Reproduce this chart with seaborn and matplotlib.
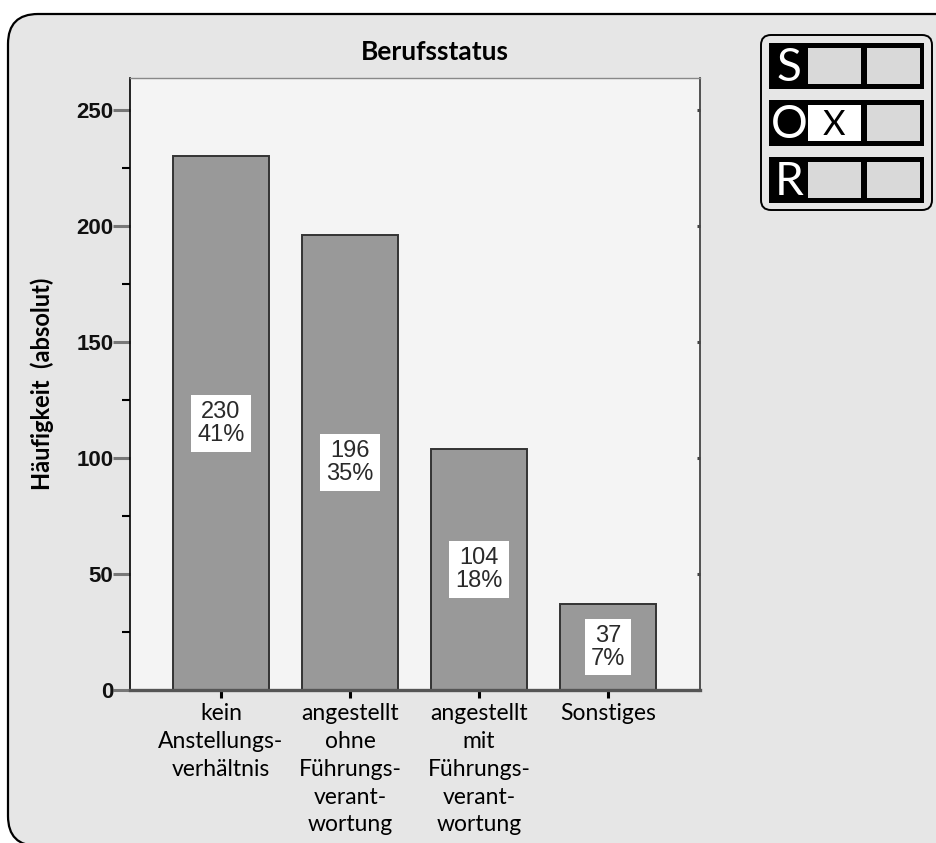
import matplotlib
matplotlib.use("Agg")
import matplotlib.pyplot as plt
from matplotlib.patches import FancyBboxPatch, Rectangle
import pandas as pd
import seaborn as sns

# Occupational status counts
categories = [
    "kein\nAnstellungs-\nverhältnis",
    "angestellt\nohne\nFührungs-\nverant-\nwortung",
    "angestellt\nmit\nFührungs-\nverant-\nwortung",
    "Sonstiges",
]
counts = [230, 196, 104, 37]
y_ticks = [0, 50, 100, 150, 200, 250]
y_minor = [25, 75, 125, 175, 225]

title = "Berufsstatus"
y_label = "Häufigkeit  (absolut)"

sns.set_style("ticks")
plt.rcParams["font.family"] = ["Lato", "DejaVu Sans"]

W, H = 937, 843
fig = plt.figure(figsize=(W / 100, H / 100), dpi=100, facecolor="white")

# Background layer in pixel coordinates: rounded frame and the S/O/R badge
bg = fig.add_axes([0, 0, 1, 1])
bg.set_xlim(0, W)
bg.set_ylim(H, 0)
bg.axis("off")
bg.add_patch(FancyBboxPatch((8, 14), 980, 832,
                            boxstyle="round,pad=0,rounding_size=30",
                            fc="#e6e6e6", ec="black", lw=1.6))
bg.add_patch(FancyBboxPatch((761, 35), 171, 175,
                            boxstyle="round,pad=0,rounding_size=10",
                            fc="#e6e6e6", ec="black", lw=1.4))
badge_rows = [("S", 43, None), ("O", 100, 0), ("R", 157, None)]
for letter, top, marked in badge_rows:
    bg.add_patch(Rectangle((769, top), 155, 46, fc="black", ec="none"))
    for k, cx in enumerate((808, 867)):
        fc = "white" if marked == k else "#d9d9d9"
        bg.add_patch(Rectangle((cx, top + 5), 53, 36, fc=fc, ec="none"))
        if marked == k:
            bg.text(cx + 26, top + 25, "X", color="black", fontsize=25,
                    ha="center", va="center", family=["Lato", "DejaVu Sans"])
    bg.text(789, top + 25, letter, color="white", fontsize=33,
            ha="center", va="center", family=["Lato", "DejaVu Sans"])

# Main bar chart
left, right, top_px, bottom_px = 130, 700, 78, 690
ax = fig.add_axes([left / W, 1 - bottom_px / H,
                   (right - left) / W, (bottom_px - top_px) / H])
ax.set_facecolor("#f4f4f4")

df = pd.DataFrame({"status": categories, "count": counts})
sns.barplot(data=df, x="status", y="count", color="#999999",
            saturation=1, edgecolor="#333333", linewidth=1.4,
            width=0.745, ax=ax)

ax.set_xlim(-0.705, 3.713)
ax.set_ylim(0, 263.8)

total = sum(counts)
for i, v in enumerate(counts):
    pct = round(100 * v / total)
    ax.text(i, v / 2, f"{v}\n{pct}%", ha="center", va="center",
            fontsize=17, color="#2a2a2a", linespacing=1.05,
            family=["Liberation Sans", "DejaVu Sans"],
            bbox=dict(boxstyle="square,pad=0.25", fc="white", ec="none"))

# Axes styling
ax.set_yticks(y_ticks)
ax.set_yticks(y_minor, minor=True)
ax.set_yticklabels([str(t) for t in y_ticks])
ax.tick_params(axis="y", which="major", direction="out", length=12,
               width=2.2, color="#777777", pad=0)
ax.tick_params(axis="y", which="minor", direction="out", length=5.5,
               width=1.5, color="black")
for lab in ax.get_yticklabels():
    lab.set_fontfamily(["Liberation Sans", "DejaVu Sans"])
    lab.set_fontweight("bold")
    lab.set_fontsize(16)
    lab.set_color("#111111")

ax.tick_params(axis="x", direction="out", length=5.5, width=2.2,
               color="black", pad=4, labelsize=16.5, labelcolor="black")
for lab in ax.get_xticklabels():
    lab.set_linespacing(1.4)

sec = ax.secondary_yaxis("right")
sec.set_yticks(y_ticks)
sec.tick_params(direction="in", length=2.5, width=2.2, color="#444444",
                labelright=False)
sec.spines["right"].set_color("#444444")
sec.spines["right"].set_linewidth(1.3)

ax.spines["left"].set_color("black")
ax.spines["left"].set_linewidth(1.2)
ax.spines["bottom"].set_color("#555555")
ax.spines["bottom"].set_linewidth(2.4)
ax.spines["top"].set_color("#888888")
ax.spines["top"].set_linewidth(1.0)
ax.spines["right"].set_visible(False)

ax.set_xlabel("")
ax.set_ylabel(y_label, fontsize=17, fontweight="bold", color="black")
ax.yaxis.set_label_coords(-0.133, 0.5)

fig.text(435 / W, 1 - 52 / H, title, ha="center", va="center",
         fontsize=19, fontweight="bold", color="black")

fig.savefig("out.png", dpi=100, facecolor="white")
